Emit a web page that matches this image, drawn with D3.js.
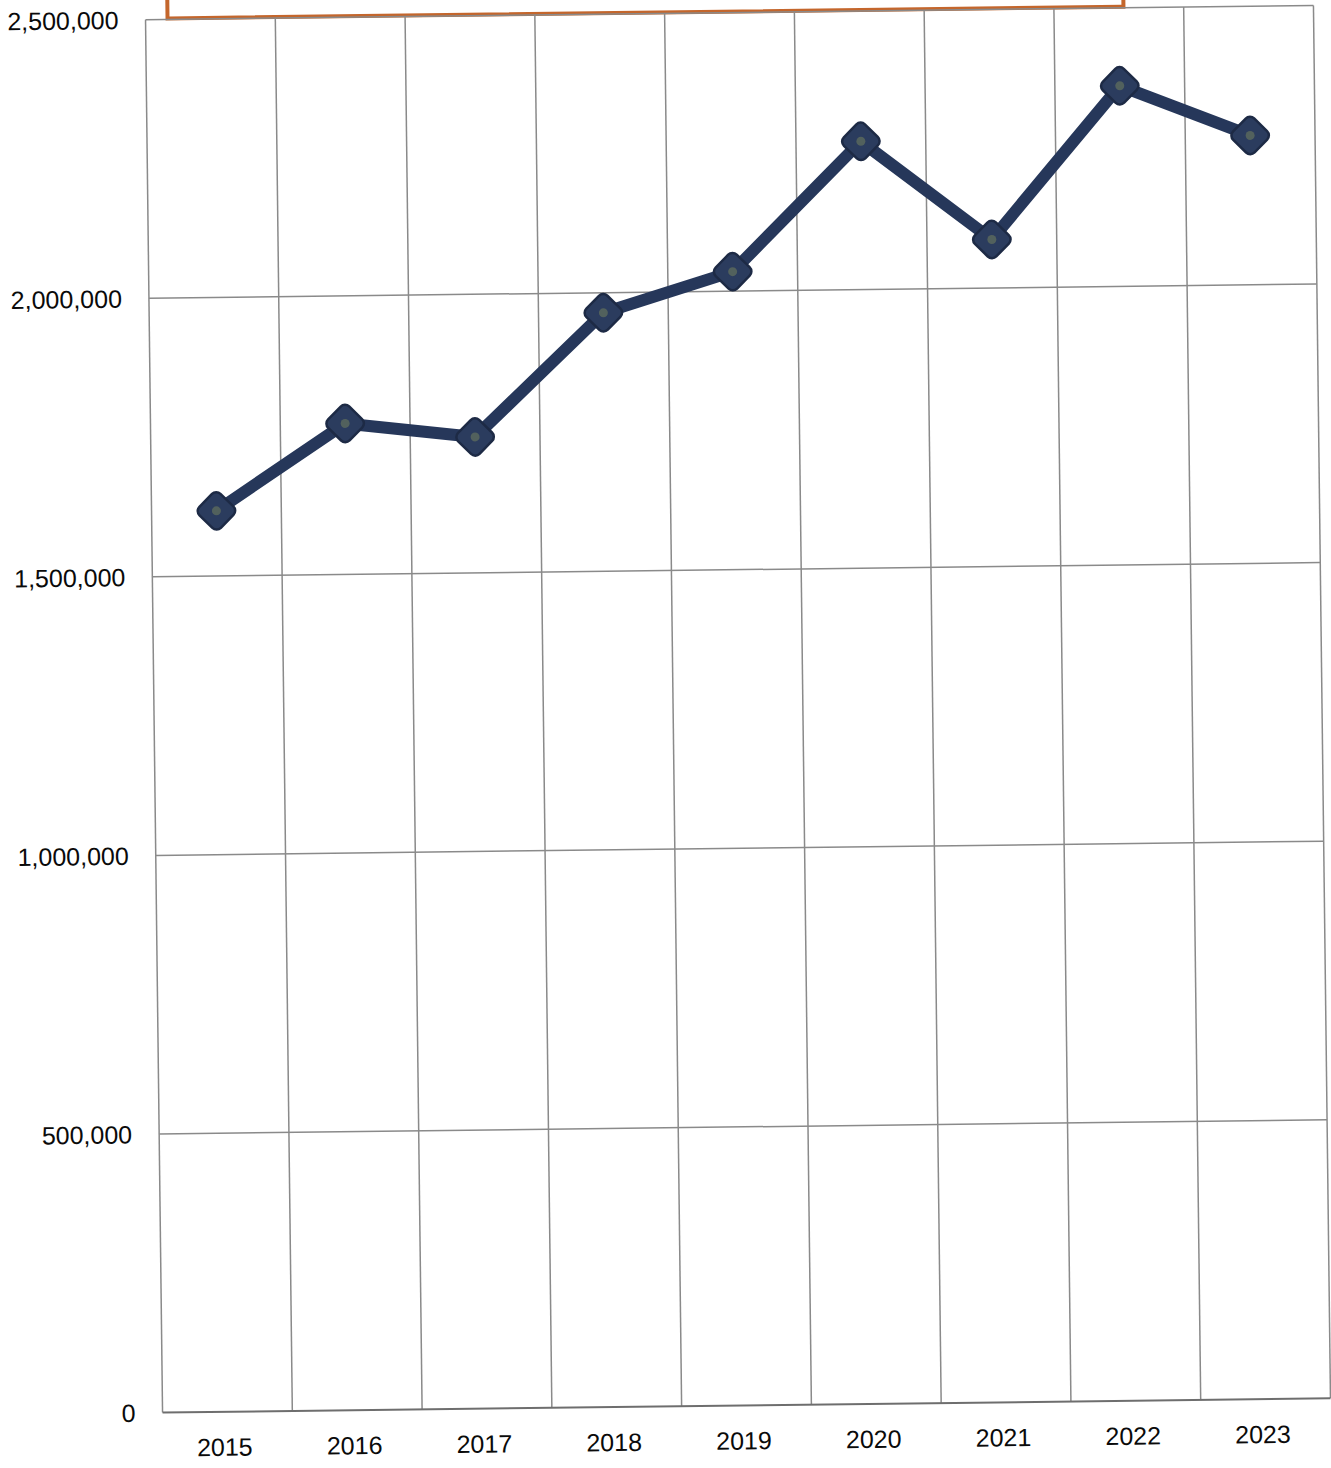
<!DOCTYPE html>
<html><head><meta charset="utf-8">
<script src="https://cdn.jsdelivr.net/npm/d3@7"></script>
<style>html,body{margin:0;padding:0;background:#fff;}svg{display:block;}</style>
</head><body>
<svg id="chart" width="1331" height="1468"></svg>
<script>
const years = ["2015","2016","2017","2018","2019","2020","2021","2022","2023"];
const values = [1617000, 1771000, 1744000, 1964000, 2035000, 2266000, 2087000, 2360000, 2268000];
const yTicks = [0, 500000, 1000000, 1500000, 2000000, 2500000];

const svg = d3.select("#chart");
const W = 1331, H = 1468;
const plot = {left: 154, right: 1322, top: 12.5, bottom: 1405.5};
const cx = (plot.left + plot.right) / 2, cy = (plot.top + plot.bottom) / 2;

svg.append("rect").attr("width", W).attr("height", H).attr("fill", "#fff");

const g = svg.append("g").attr("transform", `rotate(-0.7, ${cx}, ${cy})`);

const x = d3.scaleBand().domain(years).range([plot.left, plot.right]).padding(0);
const y = d3.scaleLinear().domain([0, 2500000]).range([plot.bottom, plot.top]);

// orange title box (clipped at top)
g.append("rect")
  .attr("x", plot.left + 22).attr("y", plot.top - 220)
  .attr("width", 956).attr("height", 219)
  .attr("fill", "#fff").attr("stroke", "#c4662c").attr("stroke-width", 4);

// horizontal gridlines
g.append("g").selectAll("line").data(yTicks.filter(d => d > 0)).join("line")
  .attr("x1", plot.left).attr("x2", plot.right)
  .attr("y1", d => y(d)).attr("y2", d => y(d))
  .attr("stroke", "#8a8a8a").attr("stroke-width", 1.5);

// vertical gridlines at band edges
const edges = years.map(d => x(d)).concat([plot.right]);
g.append("g").selectAll("line").data(edges).join("line")
  .attr("x1", d => d).attr("x2", d => d)
  .attr("y1", plot.top).attr("y2", plot.bottom)
  .attr("stroke", "#8a8a8a").attr("stroke-width", 1.5);

// x axis line
g.append("line").attr("x1", plot.left).attr("x2", plot.right)
  .attr("y1", plot.bottom).attr("y2", plot.bottom)
  .attr("stroke", "#6e6e6e").attr("stroke-width", 2);

// y axis labels
const fmt = d3.format(",");
g.append("g").selectAll("text").data(yTicks).join("text")
  .attr("x", plot.left - 27).attr("y", d => y(d))
  .attr("dy", "0.36em").attr("text-anchor", "end")
  .attr("font-family", "'Liberation Sans', Arial, sans-serif")
  .attr("font-size", 25).attr("fill", "#0a0a0a")
  .text(d => fmt(d));

// x axis labels
g.append("g").selectAll("text").data(years).join("text")
  .attr("x", d => x(d) + x.bandwidth() / 2 - 3).attr("y", plot.bottom + 44)
  .attr("text-anchor", "middle")
  .attr("font-family", "'Liberation Sans', Arial, sans-serif")
  .attr("font-size", 25).attr("fill", "#0a0a0a")
  .text(d => d);

// line
const pts = years.map((d, i) => [x(d) + x.bandwidth() / 2, y(values[i])]);
g.append("path").datum(pts)
  .attr("d", d3.line())
  .attr("fill", "none").attr("stroke", "#26375a").attr("stroke-width", 12)
  .attr("stroke-linejoin", "round");

// markers
const mk = g.append("g").selectAll("g").data(pts).join("g")
  .attr("transform", d => `translate(${d[0]},${d[1]}) rotate(45)`);
mk.append("rect").attr("x", -15).attr("y", -15).attr("width", 30).attr("height", 30)
  .attr("rx", 6).attr("fill", "#2b3c5e").attr("stroke", "#1d2a45").attr("stroke-width", 2.5);
mk.append("circle").attr("r", 4.5).attr("fill", "#5c6a5c").attr("opacity", 0.8);
</script>
</body></html>
